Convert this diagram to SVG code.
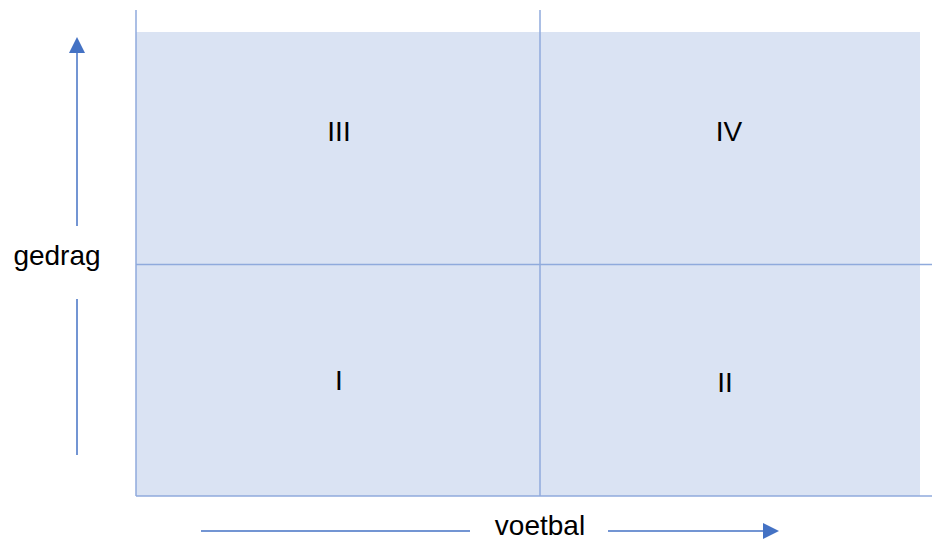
<svg xmlns="http://www.w3.org/2000/svg" width="932" height="542" viewBox="0 0 932 542">
<style>
.grid{stroke:#8FAADC;stroke-width:1.5;fill:none}
.axis{stroke:#4472C4;stroke-width:1.5;fill:none}
.lbl{font-family:"Liberation Sans",Arial,sans-serif;font-size:28px;fill:#000;text-anchor:middle}
</style>
<defs>
<marker id="ah" markerWidth="16" markerHeight="16" refX="0" refY="8" orient="auto" markerUnits="userSpaceOnUse" viewBox="0 0 16 16">
<path d="M0,0 L16,8 L0,16 Z" fill="#4472C4"/>
</marker>
</defs>
<g id="field">
<rect x="136" y="32" width="784" height="464" fill="#DAE3F3"/>
</g>
<g id="connectors">
<line class="grid" x1="136" y1="10" x2="136" y2="496"/>
<line class="grid" x1="540" y1="10" x2="540" y2="496"/>
<line class="grid" x1="136" y1="264.5" x2="932" y2="264.5"/>
<line class="grid" x1="136" y1="496" x2="932" y2="496"/>
<line class="axis" x1="77" y1="226" x2="77" y2="53" marker-end="url(#ah)"/>
<line class="axis" x1="77" y1="299" x2="77" y2="455"/>
<line class="axis" x1="201" y1="531" x2="470" y2="531"/>
<line class="axis" x1="608" y1="531" x2="763" y2="531" marker-end="url(#ah)"/>
</g>
<g id="q3"><text class="lbl" x="339" y="141">III</text></g>
<g id="q4"><text class="lbl" x="729" y="141">IV</text></g>
<g id="q1"><text class="lbl" x="339" y="390">I</text></g>
<g id="q2"><text class="lbl" x="725" y="392">II</text></g>
<g id="ylabel"><text class="lbl" x="57" y="265">gedrag</text></g>
<g id="xlabel"><text class="lbl" x="540" y="535">voetbal</text></g>
</svg>
